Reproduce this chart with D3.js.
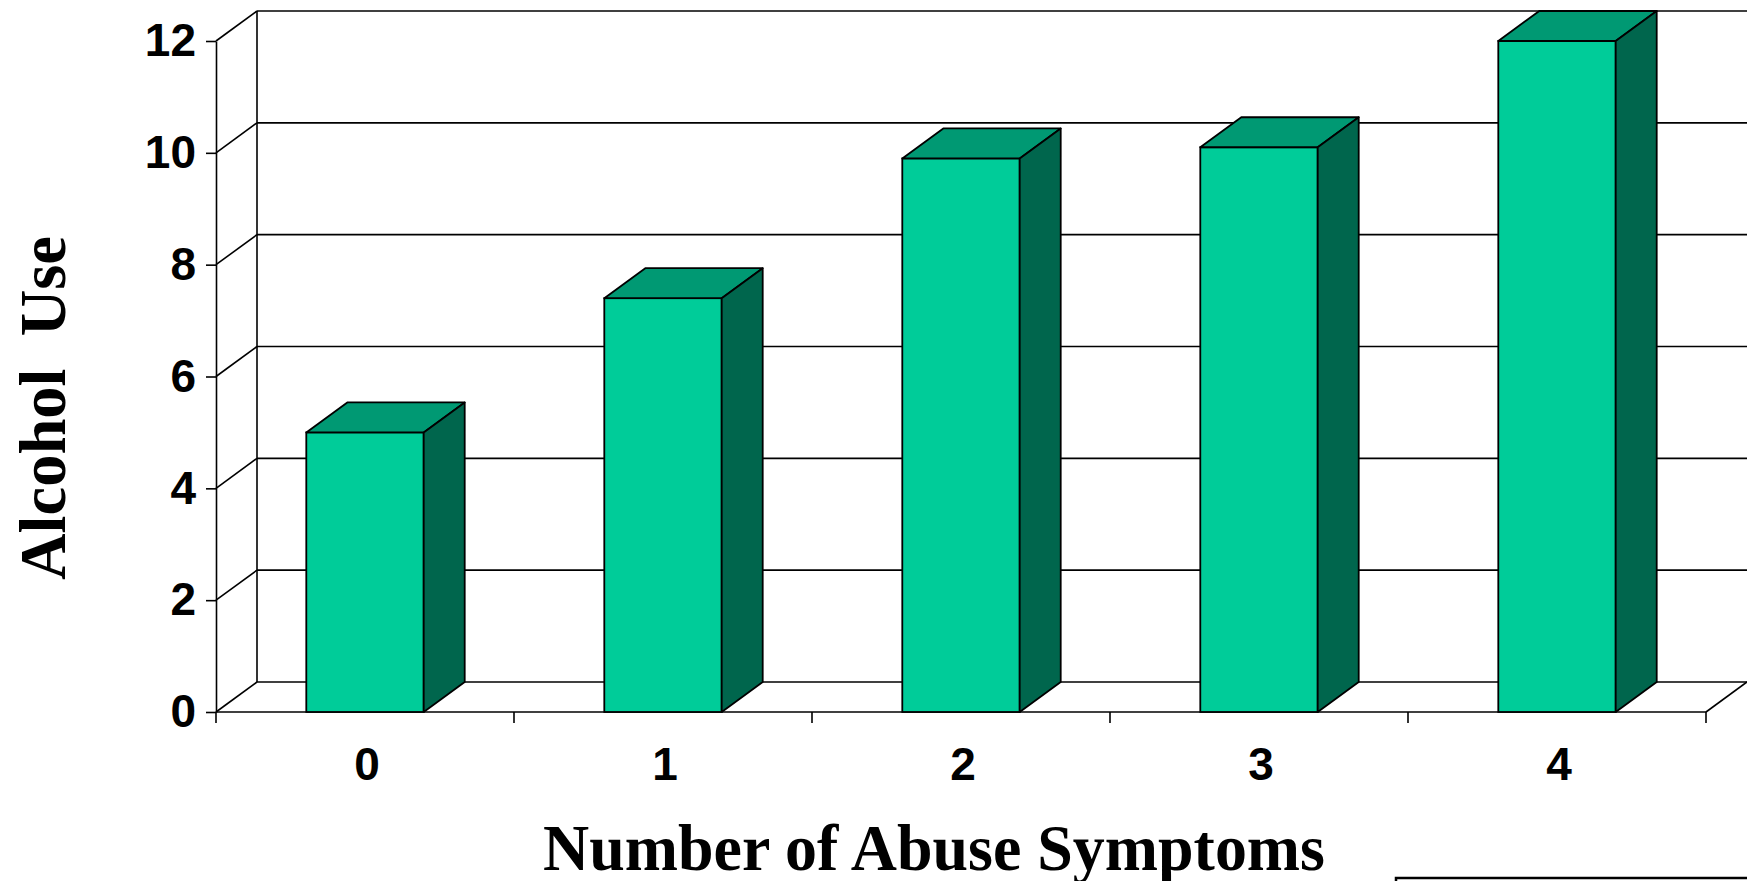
<!DOCTYPE html>
<html>
<head>
<meta charset="utf-8">
<script src="https://cdn.jsdelivr.net/npm/d3@7"></script>
<style>
  body { margin: 0; background: #fff; }
  svg { display: block; }
</style>
</head>
<body>
<div id="chart"></div>
<script>
// data
var categories = ['0', '1', '2', '3', '4'];
var alcoholUse = [5.0, 7.4, 9.9, 10.1, 12.0];
var yTicks = [0, 2, 4, 6, 8, 10, 12];

var width = 1747,
    height = 881,
    plotLeft = 216,
    plotRight = 1706,
    plotTop = 41,
    plotBottom = 712,
    dx = 41,
    dy = -30;

var svg = d3.select('#chart').append('svg')
    .attr('width', width)
    .attr('height', height);

svg.append('rect')
    .attr('width', width)
    .attr('height', height)
    .attr('fill', '#fff');

var y = d3.scaleLinear().domain([0, 12]).range([plotBottom, plotTop]);
var x = d3.scaleBand().domain(categories).range([plotLeft, plotRight]);
var xBar = d3.scaleBand().domain(categories).range([plotLeft, plotRight])
    .paddingInner(0.606)
    .paddingOuter(0.303);

var line = function(g, x1, y1, x2, y2) {
    g.append('line')
        .attr('x1', x1).attr('y1', y1)
        .attr('x2', x2).attr('y2', y2)
        .attr('stroke', '#000')
        .attr('stroke-width', 1.6);
};

var walls = svg.append('g');

// back wall grid and side wall diagonals
yTicks.forEach(function(v) {
    line(walls, plotLeft + dx, y(v) + dy, plotRight + dx, y(v) + dy);
    line(walls, plotLeft, y(v), plotLeft + dx, y(v) + dy);
});
line(walls, plotLeft + dx, y(0) + dy, plotLeft + dx, y(12) + dy);
line(walls, plotRight, y(0), plotRight + dx, y(0) + dy);
line(walls, plotLeft, y(0), plotRight, y(0));

// y axis
var yAxis = svg.append('g')
    .attr('transform', 'translate(' + plotLeft + ',0)')
    .call(d3.axisLeft(y).tickValues(yTicks).tickSize(10).tickSizeOuter(0).tickPadding(10));
yAxis.selectAll('path, line').attr('stroke', '#000').attr('stroke-width', 1.6);
yAxis.selectAll('text')
    .attr('fill', '#000')
    .style('font-family', '"Liberation Sans", Arial, sans-serif')
    .style('font-weight', 'bold')
    .style('font-size', '46px');

// bars
var bw = xBar.bandwidth();
var bars = svg.append('g').selectAll('g')
    .data(alcoholUse)
    .enter()
    .append('g');

bars.append('rect')
    .attr('x', function(d, i) { return xBar(categories[i]); })
    .attr('y', function(d) { return y(d); })
    .attr('width', bw)
    .attr('height', function(d) { return y(0) - y(d); })
    .attr('fill', '#00CC99')
    .attr('stroke', '#000')
    .attr('stroke-width', 1.8);

bars.append('polygon')
    .attr('points', function(d, i) {
        var x0 = xBar(categories[i]), x1 = x0 + bw, yt = y(d);
        return [[x0, yt], [x0 + dx, yt + dy], [x1 + dx, yt + dy], [x1, yt]].join(' ');
    })
    .attr('fill', '#009973')
    .attr('stroke', '#000')
    .attr('stroke-width', 1.8)
    .attr('stroke-linejoin', 'round');

bars.append('polygon')
    .attr('points', function(d, i) {
        var x1 = xBar(categories[i]) + bw, yt = y(d), y0 = y(0);
        return [[x1, yt], [x1 + dx, yt + dy], [x1 + dx, y0 + dy], [x1, y0]].join(' ');
    })
    .attr('fill', '#00664D')
    .attr('stroke', '#000')
    .attr('stroke-width', 1.8)
    .attr('stroke-linejoin', 'round');

// x axis ticks at category edges and labels in the middle
var xAxis = svg.append('g');
categories.concat([null]).forEach(function(c) {
    var xp = c === null ? plotRight : x(c);
    line(xAxis, xp, y(0), xp, y(0) + 11);
});
xAxis.selectAll('text')
    .data(categories)
    .enter()
    .append('text')
    .attr('x', function(c) { return x(c) + x.bandwidth() / 2 + 2; })
    .attr('y', 780)
    .attr('text-anchor', 'middle')
    .style('font-family', '"Liberation Sans", Arial, sans-serif')
    .style('font-weight', 'bold')
    .style('font-size', '46px')
    .text(function(c) { return c; });

// axis titles (the x title is cut by the bottom edge, as in the original)
svg.append('text')
    .attr('x', 934)
    .attr('y', 870)
    .attr('text-anchor', 'middle')
    .attr('textLength', 782)
    .attr('lengthAdjust', 'spacingAndGlyphs')
    .style('font-family', '"Liberation Serif", "Times New Roman", serif')
    .style('font-weight', 'bold')
    .style('font-size', '65px')
    .text('Number of Abuse Symptoms');

svg.append('text')
    .attr('transform', 'translate(65,408) rotate(-90)')
    .attr('text-anchor', 'middle')
    .attr('textLength', 344)
    .attr('lengthAdjust', 'spacingAndGlyphs')
    .style('white-space', 'pre')
    .style('font-family', '"Liberation Serif", "Times New Roman", serif')
    .style('font-weight', 'bold')
    .style('font-size', '65px')
    .text('Alcohol  Use');

// edge of the box cut off at the bottom right
svg.append('rect')
    .attr('x', 1396)
    .attr('y', 878)
    .attr('width', 400)
    .attr('height', 60)
    .attr('fill', '#fff')
    .attr('stroke', '#000')
    .attr('stroke-width', 2.5);
</script>
</body>
</html>
